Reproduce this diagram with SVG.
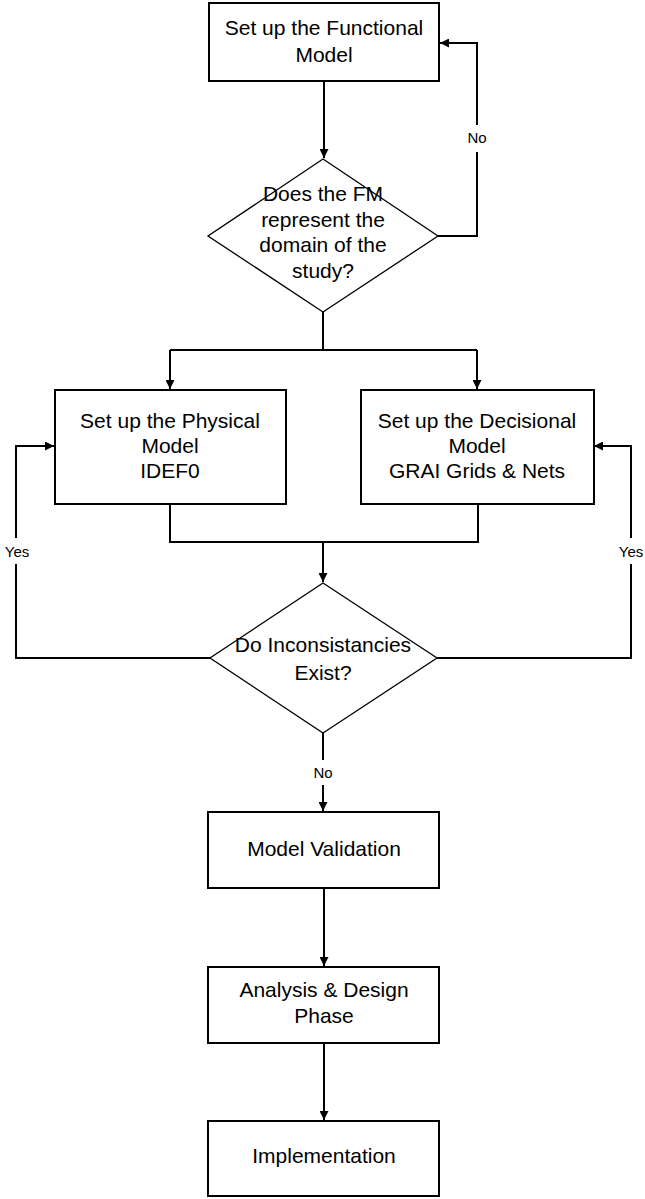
<svg xmlns="http://www.w3.org/2000/svg" width="645" height="1199" viewBox="0 0 645 1199">
  <style>
    .box { fill: #ffffff; stroke: #000000; stroke-width: 2; }
    .dec { fill: #ffffff; stroke: #000000; stroke-width: 1.3; }
    .t { font-family: "Liberation Sans", Arial, sans-serif; font-size: 21px; fill: #000000; text-anchor: middle; }
    .lbl { font-family: "Liberation Sans", Arial, sans-serif; font-size: 15px; fill: #000000; text-anchor: middle; }
    .wire { fill: none; stroke: #000000; stroke-width: 2; }
  </style>
  <defs>
    <marker id="arrow" viewBox="0 0 10 10" refX="10" refY="5" markerWidth="10" markerHeight="9" markerUnits="userSpaceOnUse" orient="auto">
      <path d="M0,0 L10,5 L0,10 Z" fill="#000000"/>
    </marker>
  </defs>
  <rect width="645" height="1199" fill="#ffffff"/>

  <g id="connectors">
    <!-- functional model to first decision -->
    <path class="wire" d="M324,81 V158" marker-end="url(#arrow)"/>
    <!-- "No" loop back to functional model -->
    <path class="wire" d="M438,236 H477 V152"/>
    <path class="wire" d="M477,125 V43 H440" marker-end="url(#arrow)"/>
    <!-- split to physical and decisional models -->
    <path class="wire" d="M323,312 V350"/>
    <path class="wire" d="M170,350 H477"/>
    <path class="wire" d="M170,350 V389" marker-end="url(#arrow)"/>
    <path class="wire" d="M477,350 V389" marker-end="url(#arrow)"/>
    <!-- merge into second decision -->
    <path class="wire" d="M170,504 V542 H478 V504"/>
    <path class="wire" d="M323,542 V582" marker-end="url(#arrow)"/>
    <!-- "Yes" loops -->
    <path class="wire" d="M210,658 H16 V564"/>
    <path class="wire" d="M16,538 V446 H54" marker-end="url(#arrow)"/>
    <path class="wire" d="M437,658 H631 V564"/>
    <path class="wire" d="M631,538 V446 H594" marker-end="url(#arrow)"/>
    <!-- "No" to validation -->
    <path class="wire" d="M323,733 V760"/>
    <path class="wire" d="M323,785 V811" marker-end="url(#arrow)"/>
    <!-- validation to analysis to implementation -->
    <path class="wire" d="M324,888 V966" marker-end="url(#arrow)"/>
    <path class="wire" d="M324,1043 V1120" marker-end="url(#arrow)"/>

    <text class="lbl" x="477" y="143">No</text>
    <text class="lbl" x="17" y="557">Yes</text>
    <text class="lbl" x="631" y="557">Yes</text>
    <text class="lbl" x="323" y="778">No</text>
  </g>

  <g id="functional-model">
    <rect class="box" x="209" y="3" width="230" height="78"/>
    <text class="t" x="324" y="35">Set up the Functional</text>
    <text class="t" x="324" y="62">Model</text>
  </g>

  <g id="fm-check">
    <polygon class="dec" points="323,159 438,236 323,312 208,236"/>
    <text class="t" x="323" y="201">Does the FM</text>
    <text class="t" x="323" y="227">represent the</text>
    <text class="t" x="323" y="252">domain of the</text>
    <text class="t" x="323" y="278">study?</text>
  </g>

  <g id="physical-model">
    <rect class="box" x="55" y="390" width="231" height="114"/>
    <text class="t" x="170" y="428">Set up the Physical</text>
    <text class="t" x="170" y="453">Model</text>
    <text class="t" x="170" y="478">IDEF0</text>
  </g>

  <g id="decisional-model">
    <rect class="box" x="361" y="390" width="233" height="114"/>
    <text class="t" x="477" y="428">Set up the Decisional</text>
    <text class="t" x="477" y="453">Model</text>
    <text class="t" x="477" y="478">GRAI Grids &amp; Nets</text>
  </g>

  <g id="inconsistency-check">
    <polygon class="dec" points="323,583 437,658 323,733 210,658"/>
    <text class="t" x="323" y="652">Do Inconsistancies</text>
    <text class="t" x="323" y="680">Exist?</text>
  </g>

  <g id="model-validation">
    <rect class="box" x="208" y="812" width="231" height="76"/>
    <text class="t" x="324" y="856">Model Validation</text>
  </g>

  <g id="analysis-design">
    <rect class="box" x="208" y="967" width="231" height="76"/>
    <text class="t" x="324" y="997">Analysis &amp; Design</text>
    <text class="t" x="324" y="1023">Phase</text>
  </g>

  <g id="implementation">
    <rect class="box" x="208" y="1121" width="231" height="75"/>
    <text class="t" x="324" y="1163">Implementation</text>
  </g>
</svg>
